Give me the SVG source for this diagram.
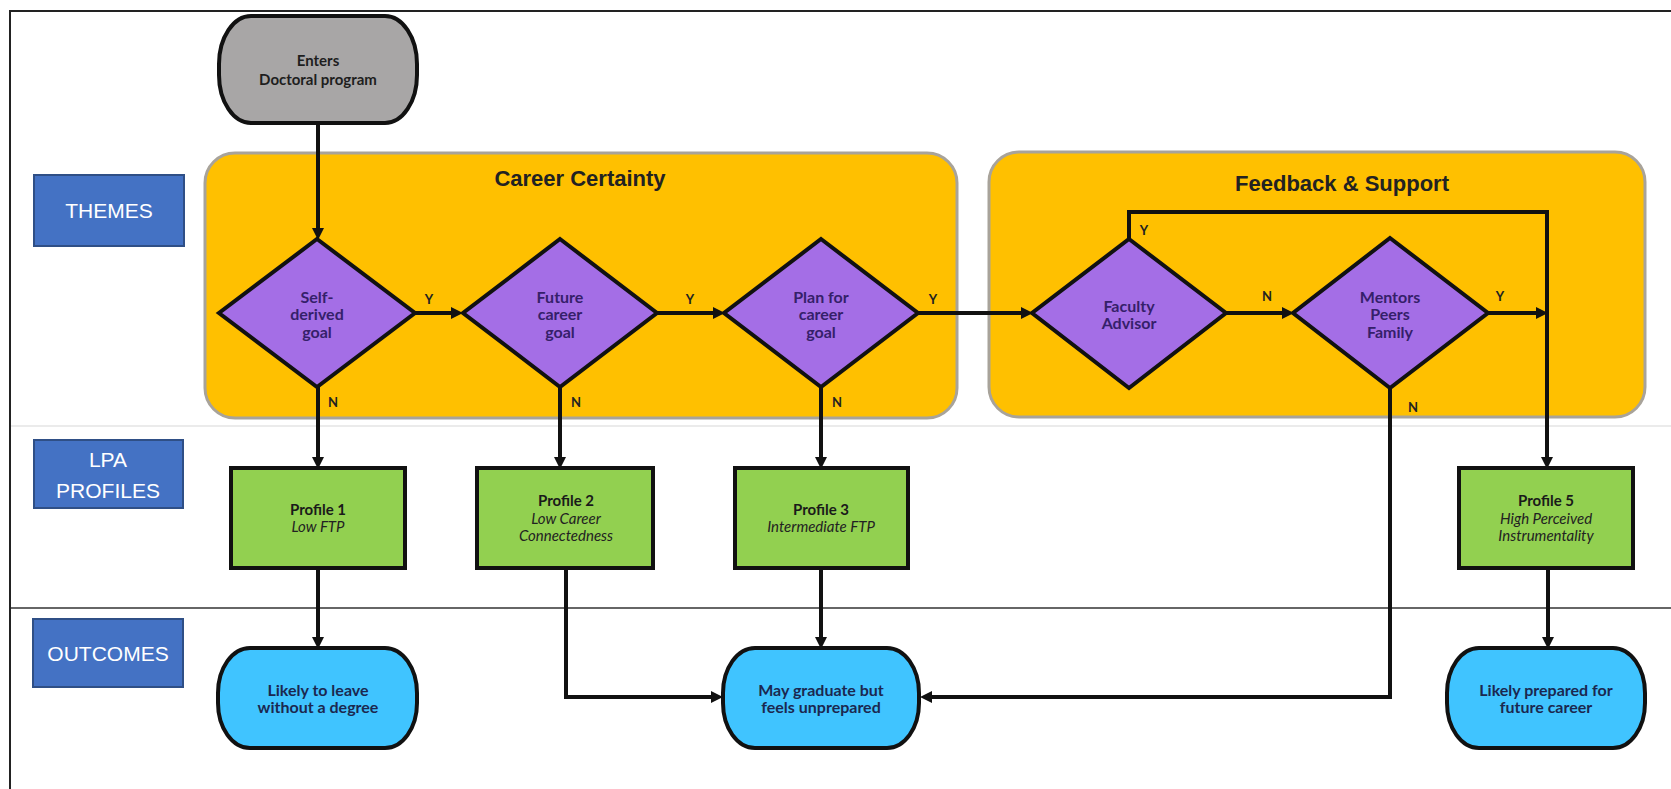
<svg xmlns="http://www.w3.org/2000/svg" width="1671" height="789" viewBox="0 0 1671 789">
  <style>
    .frame { stroke: #222; stroke-width: 2; fill: none; }
    .rowline-light { stroke: #e4e4e4; stroke-width: 1.5; }
    .rowline { stroke: #333; stroke-width: 1.5; }
    .panel { fill: #ffc000; stroke: #a8a39a; stroke-width: 3; }
    .title { font-family: "Liberation Sans", Arial, sans-serif; font-weight: 700; font-size: 22px; fill: #222; text-anchor: middle; }
    .label { fill: #4472c4; stroke: #2f4f86; stroke-width: 2; }
    .label-text { font-family: "Liberation Sans", Arial, sans-serif; font-size: 21px; fill: #fff; text-anchor: middle; }
    .start { fill: #a8a6a6; stroke: #111; stroke-width: 4; }
    .decision { fill: #a46ee6; stroke: #111; stroke-width: 4; stroke-linejoin: miter; }
    .profile { fill: #92d050; stroke: #111; stroke-width: 4; }
    .outcome { fill: #40c4ff; stroke: #111; stroke-width: 4; }
    .t { font-family: Lato, "Noto Sans", sans-serif; font-weight: 700; text-anchor: middle; }
    .t-start { font-size: 15px; fill: #1e1e1e; }
    .t-dec { font-size: 16px; fill: #35206a; }
    .t-prof { font-size: 15px; fill: #1a1a1a; }
    .t-sub { font-family: Lato, "Noto Sans", sans-serif; font-style: italic; font-weight: 400; font-size: 15px; fill: #222; text-anchor: middle; }
    .t-out { font-size: 16px; fill: #1b2850; }
    .yn { font-family: Lato, "Noto Sans", sans-serif; font-weight: 700; font-size: 13px; fill: #222; text-anchor: middle; }
    .edge { fill: none; stroke: #111; stroke-width: 4; stroke-linejoin: miter; }
    .arrow { marker-end: url(#head); }
  </style>
  <defs>
    <marker id="head" viewBox="0 0 12 12" refX="5" refY="6" markerWidth="12" markerHeight="12" markerUnits="userSpaceOnUse" orient="auto">
      <path d="M0,0 L12,6 L0,12 z" fill="#111"/>
    </marker>
  </defs>

  <rect width="1671" height="789" fill="#fff"/>

  <!-- page frame and row separators -->
  <g id="frame">
    <path class="frame" d="M10,789 V11 H1671"/>
    <line class="rowline-light" x1="11" y1="426" x2="1671" y2="426"/>
    <line class="rowline" x1="11" y1="608" x2="1671" y2="608"/>
  </g>

  <!-- theme panels -->
  <g id="panel-career-certainty">
    <rect class="panel" x="205" y="153" width="752" height="265" rx="30" ry="30"/>
    <text class="title" x="580" y="186">Career Certainty</text>
  </g>
  <g id="panel-feedback-support">
    <rect class="panel" x="989" y="152" width="656" height="265" rx="30" ry="30"/>
    <text class="title" x="1342" y="191">Feedback &amp; Support</text>
  </g>

  <!-- row labels -->
  <g id="label-themes">
    <rect class="label" x="34" y="175" width="150" height="71"/>
    <text class="label-text" x="109" y="218">THEMES</text>
  </g>
  <g id="label-lpa-profiles">
    <rect class="label" x="34" y="440" width="149" height="68"/>
    <text class="label-text" x="108" y="467">LPA</text>
    <text class="label-text" x="108" y="498">PROFILES</text>
  </g>
  <g id="label-outcomes">
    <rect class="label" x="33" y="619" width="150" height="68"/>
    <text class="label-text" x="108" y="661">OUTCOMES</text>
  </g>

  <!-- connectors -->
  <g id="connectors">
    <path class="edge arrow" d="M318,123 V233"/>
    <path class="edge arrow" d="M415,313 H456"/>
    <path class="edge arrow" d="M657,313 H718"/>
    <path class="edge arrow" d="M918,313 H1026"/>
    <path class="edge arrow" d="M1129,239 V212 H1547 V462"/>
    <path class="edge arrow" d="M1226,313 H1287"/>
    <path class="edge arrow" d="M1488,313 H1541"/>
    <path class="edge arrow" d="M318,387 V462"/>
    <path class="edge arrow" d="M560,387 V462"/>
    <path class="edge arrow" d="M821,387 V462"/>
    <path class="edge arrow" d="M1390,388 V697 H927"/>
    <path class="edge arrow" d="M318,568 V642"/>
    <path class="edge arrow" d="M566,568 V697 H716"/>
    <path class="edge arrow" d="M821,568 V642"/>
    <path class="edge arrow" d="M1548,568 V642"/>

    <text class="yn" x="429" y="304">Y</text>
    <text class="yn" x="690" y="304">Y</text>
    <text class="yn" x="933" y="304">Y</text>
    <text class="yn" x="1144" y="235">Y</text>
    <text class="yn" x="1267" y="301">N</text>
    <text class="yn" x="1500" y="301">Y</text>
    <text class="yn" x="333" y="407">N</text>
    <text class="yn" x="576" y="407">N</text>
    <text class="yn" x="837" y="407">N</text>
    <text class="yn" x="1413" y="412">N</text>
  </g>

  <!-- start -->
  <g id="start">
    <rect class="start" x="219" y="16" width="198" height="107" rx="32" ry="48"/>
    <text class="t t-start" x="318" y="66">Enters</text>
    <text class="t t-start" x="318" y="85">Doctoral program</text>
  </g>

  <!-- decisions -->
  <g id="decision-self-derived">
    <polygon class="decision" points="317,239 415,313 317,387 219,313"/>
    <text class="t t-dec" x="317" y="303">Self-</text>
    <text class="t t-dec" x="317" y="320">derived</text>
    <text class="t t-dec" x="317" y="338">goal</text>
  </g>
  <g id="decision-future-career">
    <polygon class="decision" points="560,239 657,313 560,387 463,313"/>
    <text class="t t-dec" x="560" y="303">Future</text>
    <text class="t t-dec" x="560" y="320">career</text>
    <text class="t t-dec" x="560" y="338">goal</text>
  </g>
  <g id="decision-plan">
    <polygon class="decision" points="821,239 918,313 821,387 724,313"/>
    <text class="t t-dec" x="821" y="303">Plan for</text>
    <text class="t t-dec" x="821" y="320">career</text>
    <text class="t t-dec" x="821" y="338">goal</text>
  </g>
  <g id="decision-faculty">
    <polygon class="decision" points="1129,239 1226,313 1129,388 1032,313"/>
    <text class="t t-dec" x="1129" y="312">Faculty</text>
    <text class="t t-dec" x="1129" y="329">Advisor</text>
  </g>
  <g id="decision-mentors">
    <polygon class="decision" points="1390,238 1488,313 1390,388 1293,313"/>
    <text class="t t-dec" x="1390" y="303">Mentors</text>
    <text class="t t-dec" x="1390" y="320">Peers</text>
    <text class="t t-dec" x="1390" y="338">Family</text>
  </g>

  <!-- profiles -->
  <g id="profile-1">
    <rect class="profile" x="231" y="468" width="174" height="100"/>
    <text class="t t-prof" x="318" y="515">Profile 1</text>
    <text class="t-sub" x="318" y="532">Low FTP</text>
  </g>
  <g id="profile-2">
    <rect class="profile" x="477" y="468" width="176" height="100"/>
    <text class="t t-prof" x="566" y="506">Profile 2</text>
    <text class="t-sub" x="566" y="524">Low Career</text>
    <text class="t-sub" x="566" y="541">Connectedness</text>
  </g>
  <g id="profile-3">
    <rect class="profile" x="735" y="468" width="173" height="100"/>
    <text class="t t-prof" x="821" y="515">Profile 3</text>
    <text class="t-sub" x="821" y="532">Intermediate FTP</text>
  </g>
  <g id="profile-5">
    <rect class="profile" x="1459" y="468" width="174" height="100"/>
    <text class="t t-prof" x="1546" y="506">Profile 5</text>
    <text class="t-sub" x="1546" y="524">High Perceived</text>
    <text class="t-sub" x="1546" y="541">Instrumentality</text>
  </g>

  <!-- outcomes -->
  <g id="outcome-leave">
    <rect class="outcome" x="218" y="648" width="199" height="100" rx="32" ry="45"/>
    <text class="t t-out" x="318" y="696">Likely to leave</text>
    <text class="t t-out" x="318" y="713">without a degree</text>
  </g>
  <g id="outcome-unprepared">
    <rect class="outcome" x="723" y="648" width="196" height="100" rx="32" ry="45"/>
    <text class="t t-out" x="821" y="696">May graduate but</text>
    <text class="t t-out" x="821" y="713">feels unprepared</text>
  </g>
  <g id="outcome-prepared">
    <rect class="outcome" x="1447" y="648" width="198" height="100" rx="32" ry="45"/>
    <text class="t t-out" x="1546" y="696">Likely prepared for</text>
    <text class="t t-out" x="1546" y="713">future career</text>
  </g>
</svg>
